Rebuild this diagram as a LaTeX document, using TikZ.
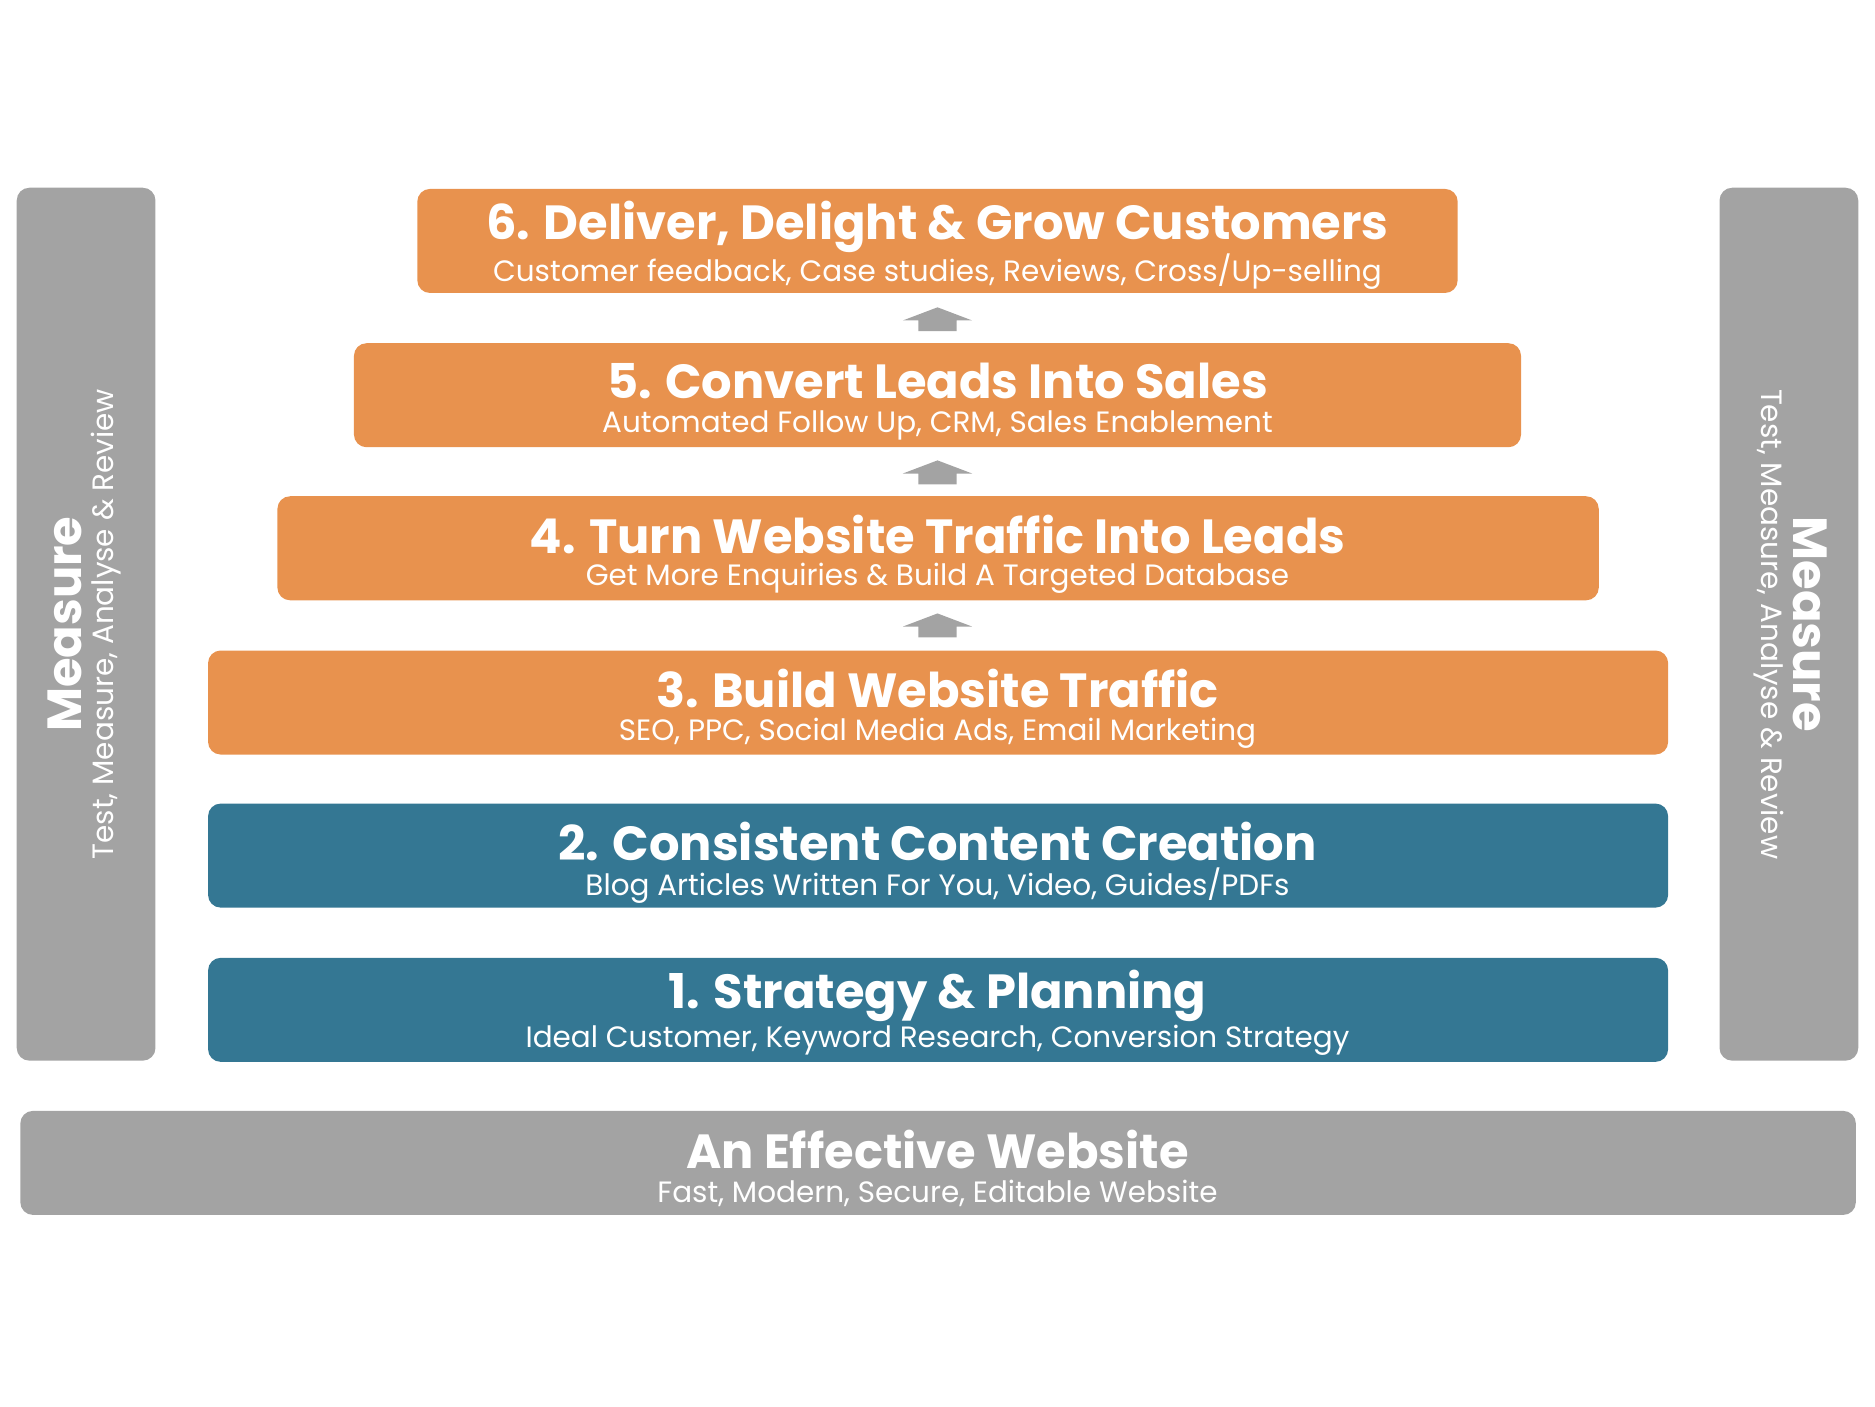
\documentclass[tikz,border=0pt]{standalone}
\usepackage{fontspec}
\setmainfont{Poppins}
\definecolor{org}{HTML}{E8924E}
\definecolor{blu}{HTML}{347793}
\definecolor{gry}{HTML}{A3A3A3}
\begin{document}
\begin{tikzpicture}[x=0.01cm,y=-0.01cm,
  bar/.style={rounded corners=3pt,inner sep=0pt,outer sep=0pt},
  ttl/.style={text=white,font=\bfseries\fontsize{11.4}{13}\selectfont,inner sep=0pt},
  sub/.style={text=white,font=\fontsize{7.0}{8.5}\selectfont,inner sep=0pt},
  upar/.style={fill=gry,draw=none}]
\useasboundingbox (0,0) rectangle (1568,1176);
% side bars
\fill[gry,bar] (14,157) rectangle (130,887);
\fill[gry,bar] (1438,157) rectangle (1554,887);
\node[ttl,rotate=90] (lm) at (54,522) {Measure};
\node[sub,rotate=90] (ls) at (89,522) {Test, Measure, Analyse \& Review};
\node[ttl,rotate=-90] (rm) at (1514,522) {Measure};
\node[sub,rotate=-90] (rs) at (1479,522) {Test, Measure, Analyse \& Review};
% layers
\foreach \n/\xa/\xb/\ya/\c/\t/\s in {
 6/349/1219/158/org/{6. Deliver, Delight \& Grow Customers}/{Customer feedback, Case studies, Reviews, Cross/Up-selling},
 5/296/1272/287/org/{5. Convert Leads Into Sales}/{Automated Follow Up, CRM, Sales Enablement},
 4/232/1337/415/org/{4. Turn Website Traffic Into Leads}/{Get More Enquiries \& Build A Targeted Database},
 3/174/1395/544/org/{3. Build Website Traffic}/{SEO, PPC, Social Media Ads, Email Marketing},
 2/174/1395/672/blu/{2. Consistent Content Creation}/{Blog Articles Written For You, Video, Guides/PDFs},
 1/174/1395/801/blu/{1. Strategy \& Planning}/{Ideal Customer, Keyword Research, Conversion Strategy},
 0/17/1552/929/gry/{An Effective Website}/{Fast, Modern, Secure, Editable Website}}{
  \fill[\c,bar] (\xa,\ya) rectangle (\xb,\ya+87);
  \node[ttl] (t\n) at (784,\ya+32) {\t};
  \node[sub] (s\n) at (784,\ya+69) {\s};
}
% small up arrows
\foreach \y in {257,385,513}{
  \fill[upar] (784,\y) -- (813,\y+11) -- (800,\y+11) -- (800,\y+20) -- (768,\y+20) -- (768,\y+11) -- (755,\y+11) -- cycle;
}
\end{tikzpicture}
\end{document}
